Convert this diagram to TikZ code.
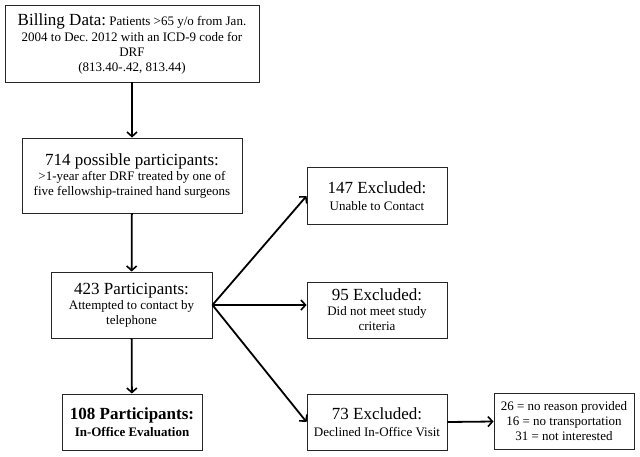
\documentclass[tikz,border=0pt]{standalone}
\usepackage{fontspec}
\setmainfont{Liberation Serif}
\usetikzlibrary{arrows.meta}
\frenchspacing
\newcommand{\bigt}{\fontsize{17}{17}\selectfont}
\tikzset{
  box/.style={draw=black!85, line width=0.9pt, align=center, inner sep=0pt,
    minimum width=140pt, minimum height=56pt, font=\fontsize{13}{15}\selectfont},
  arr/.style={line width=1.8pt, -{Straight Barb[length=4.5pt,width=10pt,line width=1.6pt]}}
}
\begin{document}
\begin{tikzpicture}[x=1pt,y=-1pt]
\useasboundingbox[fill=white] (0,0) rectangle (640,456);
\node[box, minimum width=254pt, minimum height=77pt, font=\fontsize{13}{15}\selectfont\frenchspacing] (b1) at (132,43.5)
  {{\bigt Billing Data:} Patients >65 y/o from Jan.\\[1pt]2004 to Dec. 2012 with an ICD-9 code for\\DRF\\(813.40-.42, 813.44)};
\node[box, minimum width=220pt, minimum height=75pt] (b2) at (132,175.5)
  {{\bigt 714 possible participants:}\\>1-year after DRF treated by one of\\five fellowship-trained hand surgeons};
\node[box, minimum width=161pt, minimum height=66pt] (b3) at (131.5,305)
  {{\bigt 423 Participants:}\\Attempted to contact by\\telephone};
\node[box, minimum width=140pt, minimum height=56pt, font=\fontsize{13}{17}\selectfont\bfseries] (b4) at (132,422)
  {{\bigt 108 Participants:}\\In-Office Evaluation};
\node[box, minimum height=57pt, font=\fontsize{13}{17}\selectfont] (b5) at (377,196)
  {{\bigt 147 Excluded:}\\Unable to Contact};
\node[box] (b6) at (377,310)
  {{\bigt 95 Excluded:}\\Did not meet study\\criteria};
\node[box, font=\fontsize{13}{17}\selectfont] (b7) at (377,422)
  {{\bigt 73 Excluded:}\\Declined In-Office Visit};
\node[box] (b8) at (564,421.5)
  {26 = no reason provided\\16 = no transportation\\31 = not interested};
\draw[arr] (b1) -- (b2);
\draw[arr] (b2) -- (b3);
\draw[arr] (b3) -- (b4);
\draw[arr] (b3.east) -- (b5.west);
\draw[arr] (b3.east) -- (b3.east -| b6.west);
\draw[arr] (b3.east) -- (b7.west);
\draw[arr] (b7.east) -- (b8.west);
\end{tikzpicture}
\end{document}
